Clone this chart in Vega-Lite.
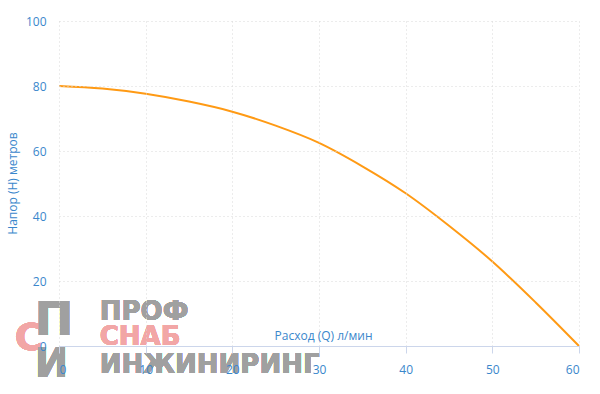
{
  "$schema": "https://vega.github.io/schema/vega-lite/v6.json",
  "width": 520,
  "height": 325,
  "autosize": {"type": "none"},
  "padding": {"left": 59, "top": 21, "right": 21, "bottom": 48},
  "config": {"view": {"stroke": null}, "font": "Open Sans"},
  "data": {"values": [
    {"q": 0, "h": 80},
    {"q": 5, "h": 79.2},
    {"q": 10, "h": 77.6},
    {"q": 15, "h": 75.2},
    {"q": 20, "h": 72.1},
    {"q": 25, "h": 67.8},
    {"q": 30, "h": 62.5},
    {"q": 35, "h": 55.3},
    {"q": 40, "h": 47},
    {"q": 45, "h": 37},
    {"q": 50, "h": 26},
    {"q": 55, "h": 13.4},
    {"q": 60, "h": 0}
  ]},
  "layer": [
    {
      "mark": {"type": "text", "text": "С", "font": "DejaVu Sans", "fontWeight": "bold", "fontSize": 38, "color": "#f2a6a6", "opacity": 0.75, "align": "left", "baseline": "alphabetic", "clip": false},
      "encoding": {"x": {"datum": -5.1}, "y": {"datum": -1.1}}
    },
    {
      "mark": {"type": "text", "text": "П", "font": "DejaVu Sans", "fontWeight": "bold", "fontSize": 46, "color": "#a0a0a0", "opacity": 0.7, "align": "left", "baseline": "alphabetic", "clip": false},
      "encoding": {"x": {"datum": -2.8}, "y": {"datum": 3.5}}
    },
    {
      "mark": {"type": "text", "text": "И", "font": "DejaVu Sans", "fontWeight": "bold", "fontSize": 40, "color": "#a0a0a0", "opacity": 0.7, "align": "left", "baseline": "alphabetic", "clip": false},
      "encoding": {"x": {"datum": -2.8}, "y": {"datum": -9.4}}
    },
    {
      "mark": {"type": "text", "text": "ПРОФ", "font": "DejaVu Sans", "fontWeight": "bold", "fontSize": 26, "color": "#a0a0a0", "opacity": 0.85, "align": "left", "baseline": "alphabetic", "clip": false},
      "encoding": {"x": {"datum": 4.7}, "y": {"datum": 8.1}}
    },
    {
      "mark": {"type": "text", "text": "СНАБ", "font": "DejaVu Sans", "fontWeight": "bold", "fontSize": 26, "color": "#f2a6a6", "opacity": 0.9, "align": "left", "baseline": "alphabetic", "clip": false},
      "encoding": {"x": {"datum": 4.7}, "y": {"datum": 0.4}}
    },
    {
      "mark": {"type": "text", "text": "ИНЖИНИРИНГ", "font": "DejaVu Sans", "fontWeight": "bold", "fontSize": 26, "color": "#a0a0a0", "opacity": 0.85, "align": "left", "baseline": "alphabetic", "clip": false},
      "encoding": {"x": {"datum": 4.7}, "y": {"datum": -8.2}}
    },
    {
      "mark": {"type": "line", "color": "#ff9a14", "strokeWidth": 2, "interpolate": "monotone"},
      "encoding": {
        "x": {
          "field": "q", "type": "quantitative",
          "scale": {"domain": [0, 60], "nice": false},
          "axis": {
            "values": [0, 10, 20, 30, 40, 50, 60], "zindex": 1,
            "grid": true, "gridDash": [1, 3], "gridColor": "#d8d8d8",
            "domainColor": "#ccd6eb", "tickColor": "#ccd6eb", "tickSize": 7,
            "labelColor": "#3a87cc", "labelFontSize": 12, "labelPadding": 11,
            "title": "Расход (Q) л/мин", "titleColor": "#3a87cc", "titleFontWeight": "normal",
            "titleFontSize": 12, "titleY": -7, "titleX": 264, "titleBaseline": "alphabetic", "titleAlign": "center"
          }
        },
        "y": {
          "field": "h", "type": "quantitative",
          "scale": {"domain": [0, 100], "nice": false},
          "axis": {
            "values": [0, 20, 40, 60, 80, 100], "zindex": 1,
            "grid": true, "gridDash": [1, 3], "gridColor": "#d8d8d8",
            "domain": false, "ticks": false,
            "labelColor": "#3a87cc", "labelFontSize": 12, "labelPadding": 13,
            "title": "Напор (H) метров", "titleColor": "#3a87cc", "titleFontWeight": "normal",
            "titleFontSize": 12, "titleX": -47, "titleY": 162, "titleBaseline": "middle", "titleAlign": "center"
          }
        }
      }
    }
  ]
}
